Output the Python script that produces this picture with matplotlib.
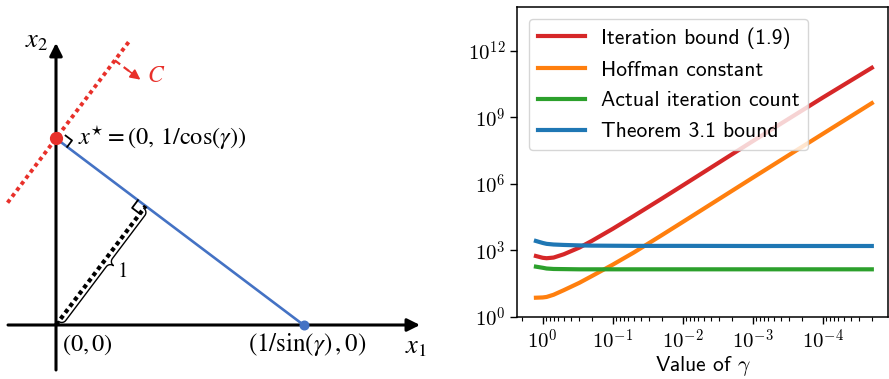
import numpy as np
import matplotlib
matplotlib.use("Agg")
import matplotlib.pyplot as plt
from matplotlib.ticker import NullLocator, FixedLocator, FuncFormatter, NullFormatter

plt.rcParams['mathtext.fontset'] = 'cm'

# ---------------- right panel data ----------------
gamma = [1.25, 1.0, 0.88, 0.7, 0.5, 0.3, 0.2, 0.1, 0.05, 0.02, 0.01, 1e-3, 1e-4, 2e-5]
iteration_bound = [5.5e2, 4.57e2, 4.37e2, 4.68e2, 6.61e2, 1.32e3, 2.63e3, 9.33e3, 3.55e4,
                   2.14e5, 8.5e5, 8.5e7, 7.9e9, 1.74e11]
hoffman = [7.2, 7.4, 7.8, 9.8, 15.8, 33.9, 67.6, 2.24e2, 7.94e2,
           4.79e3, 1.9e4, 1.9e6, 1.82e8, 4.4e9]
actual_count = [182, 162, 150, 143, 141, 138, 138, 138, 138, 138, 138, 138, 138, 138]
theorem_bound = [2630, 2140, 1950, 1820, 1740, 1660, 1620, 1600, 1580, 1580, 1580, 1560, 1560, 1560]
series_labels = ["Iteration bound (1.9)", "Hoffman constant",
                 "Actual iteration count", "Theorem 3.1 bound"]
series_colors = ["#d62728", "#ff7f0e", "#2ca02c", "#1f77b4"]
xtick_values = [1e0, 1e-1, 1e-2, 1e-3, 1e-4]
ytick_values = [1e0, 1e3, 1e6, 1e9, 1e12]

# ---------------- left panel (diagram) parameters ----------------
gamma_diag = np.deg2rad(37.0)

fig = plt.figure(figsize=(8.89, 3.79), dpi=100)

# ================= left panel =================
axL = fig.add_axes([0, 0, 440 / 889, 1])
axL.set_xlim(-56 / 149, 384 / 149)
axL.set_ylim(-54 / 149, 325 / 149)
axL.set_aspect('equal')
axL.axis('off')

s, c = np.sin(gamma_diag), np.cos(gamma_diag)
xstar = np.array([0.0, 1.0 / c])
xend = np.array([1.0 / s, 0.0])
u_red = np.array([s, c])        # direction of the red (perpendicular) line
d_blue = np.array([c, -s])      # direction of the blue line
foot = np.array([s, c])         # foot of perpendicular from origin

arrow_kw = dict(arrowstyle='-|>', lw=2.2, color='black', mutation_scale=19,
                shrinkA=0, shrinkB=0)
axL.annotate('', xy=(2.443, 0), xytext=(-0.322, 0), arrowprops=arrow_kw)
axL.annotate('', xy=(0, 1.893), xytext=(0, -0.302), arrowprops=arrow_kw)

# blue segment
axL.plot([xstar[0], xend[0]], [xstar[1], xend[1]], color='#4472c4', lw=1.9,
         solid_capstyle='butt', zorder=3)
# red dotted line
p0 = xstar - 0.54 * u_red
p1 = xstar + 0.81 * u_red
axL.plot([p0[0], p1[0]], [p0[1], p1[1]], color='#e8302a', lw=2.8,
         dashes=(1, 0.95), dash_capstyle='butt', zorder=3)
# black dotted line from origin to foot
axL.plot([0, foot[0]], [0, foot[1]], color='black', lw=3.0,
         dashes=(1, 0.85), dash_capstyle='butt', zorder=3)

# dots
axL.plot(*xstar, 'o', color='#e8302a', ms=8.5, zorder=5)
axL.plot(*xend, 'o', color='#4472c4', ms=6.2, zorder=5)

# right-angle marks
a = 0.054
B = xstar + 0.04 * d_blue
m1 = np.array([B + a * u_red, B + a * u_red + a * d_blue, B + a * d_blue])
axL.plot(m1[:, 0], m1[:, 1], color='black', lw=1.3, zorder=4)
a2 = 0.065
m2 = np.array([foot - a2 * u_red, foot - a2 * u_red - a2 * d_blue, foot - a2 * d_blue])
axL.plot(m2[:, 0], m2[:, 1], color='black', lw=1.3, zorder=4)

# curly brace along the dotted line
def brace(L, r, mid):
    pts = []
    th = np.linspace(np.pi, np.pi / 2, 20)
    pts += list(zip(r + r * np.cos(th), r * np.sin(th)))
    th = np.linspace(-np.pi / 2, 0, 20)
    pts += list(zip(mid - r + r * np.cos(th), 2 * r + r * np.sin(th)))
    th = np.linspace(np.pi, 1.5 * np.pi, 20)
    pts += list(zip(mid + r + r * np.cos(th), 2 * r + r * np.sin(th)))
    th = np.linspace(np.pi / 2, 0, 20)
    pts += list(zip(L - r + r * np.cos(th), r * np.sin(th)))
    return np.array(pts)

r_b = 0.034
bp = brace(0.95, r_b, 0.52)
bx = 0.03 * u_red[0] + bp[:, 0] * u_red[0] + bp[:, 1] * d_blue[0]
by = 0.03 * u_red[1] + bp[:, 0] * u_red[1] + bp[:, 1] * d_blue[1]
axL.plot(bx, by, color='black', lw=1.0, zorder=4)
tip = 0.03 * u_red + 0.52 * u_red + 2 * r_b * d_blue
axL.annotate('$1$', xy=tip, xytext=(9, -5), textcoords='offset pixels',
             ha='center', va='center', fontsize=15, math_fontfamily='stix')

# C arrow (dashed shaft + solid head)
Pc = xstar + 0.656 * u_red
Pe = Pc + 0.215 * d_blue
Pb = Pc + 0.13 * d_blue
axL.plot([Pc[0], Pb[0]], [Pc[1], Pb[1]], color='#e8302a', lw=1.6, ls=(0, (3, 2)))
axL.annotate('', xy=Pe, xytext=Pb - 0.01 * d_blue,
             arrowprops=dict(arrowstyle='-|>', color='#e8302a', lw=1.2,
                             mutation_scale=15, shrinkA=0, shrinkB=0))
axL.annotate('$C$', xy=Pe, xytext=(16, 5), textcoords='offset pixels',
             ha='center', va='center', fontsize=17, color='#e8302a',
             math_fontfamily='stix')

# labels
axL.annotate(r'$x^{\star}=(0,\,1/\cos(\gamma))$', xy=xstar, xytext=(22, 1),
             textcoords='offset pixels', ha='left', va='center', fontsize=17.5,
             math_fontfamily='stix')
axL.annotate(r'$(0,0)$', xy=(0, 0), xytext=(6, -20), textcoords='offset pixels',
             ha='left', va='center', fontsize=17.5, math_fontfamily='stix')
axL.annotate(r'$(1/\sin(\gamma)\,,0)$', xy=xend, xytext=(4, -20),
             textcoords='offset pixels', ha='center', va='center', fontsize=18,
             math_fontfamily='stix')
axL.annotate(r'$x_1$', xy=(2.443, 0), xytext=(-4, -21), textcoords='offset pixels',
             ha='center', va='center', fontsize=19, math_fontfamily='stix')
axL.annotate(r'$x_2$', xy=(0, 1.893), xytext=(-19, 3), textcoords='offset pixels',
             ha='center', va='center', fontsize=19, math_fontfamily='stix')

# ================= right panel =================
axR = fig.add_axes([517.3 / 889, 62.3 / 379, (888.0 - 517.3) / 889, 310 / 379])
series = [iteration_bound, hoffman, actual_count, theorem_bound]
for vals, lab, col in zip(series, series_labels, series_colors):
    axR.plot(gamma, vals, color=col, lw=3, label=lab)
axR.set_xscale('log')
axR.set_yscale('log')
axR.set_xlim(10 ** 0.363, 10 ** -4.93)
axR.set_ylim(1, 1e14)
axR.xaxis.set_major_locator(FixedLocator(xtick_values))
axR.yaxis.set_major_locator(FixedLocator(ytick_values))
axR.yaxis.set_minor_locator(NullLocator())
pow_fmt = FuncFormatter(lambda v, p: r'$10^{%d}$' % int(round(np.log10(v))))
axR.xaxis.set_major_formatter(pow_fmt)
axR.yaxis.set_major_formatter(pow_fmt)
axR.xaxis.set_minor_formatter(NullFormatter())
axR.tick_params(which='major', length=5, width=1, labelsize=15)
axR.tick_params(which='minor', length=3, width=0.8)
for sp in axR.spines.values():
    sp.set_linewidth(1.1)
axR.set_xlabel(r'Value of $\gamma$', fontsize=15.5, family='cmss10', labelpad=1)
leg = axR.legend(loc='upper left', prop={'family': 'cmss10', 'size': 15.5},
                 handlelength=2.2, handletextpad=0.75, labelspacing=0.55,
                 borderaxespad=0.55)

fig.savefig('out.png', dpi=100)
